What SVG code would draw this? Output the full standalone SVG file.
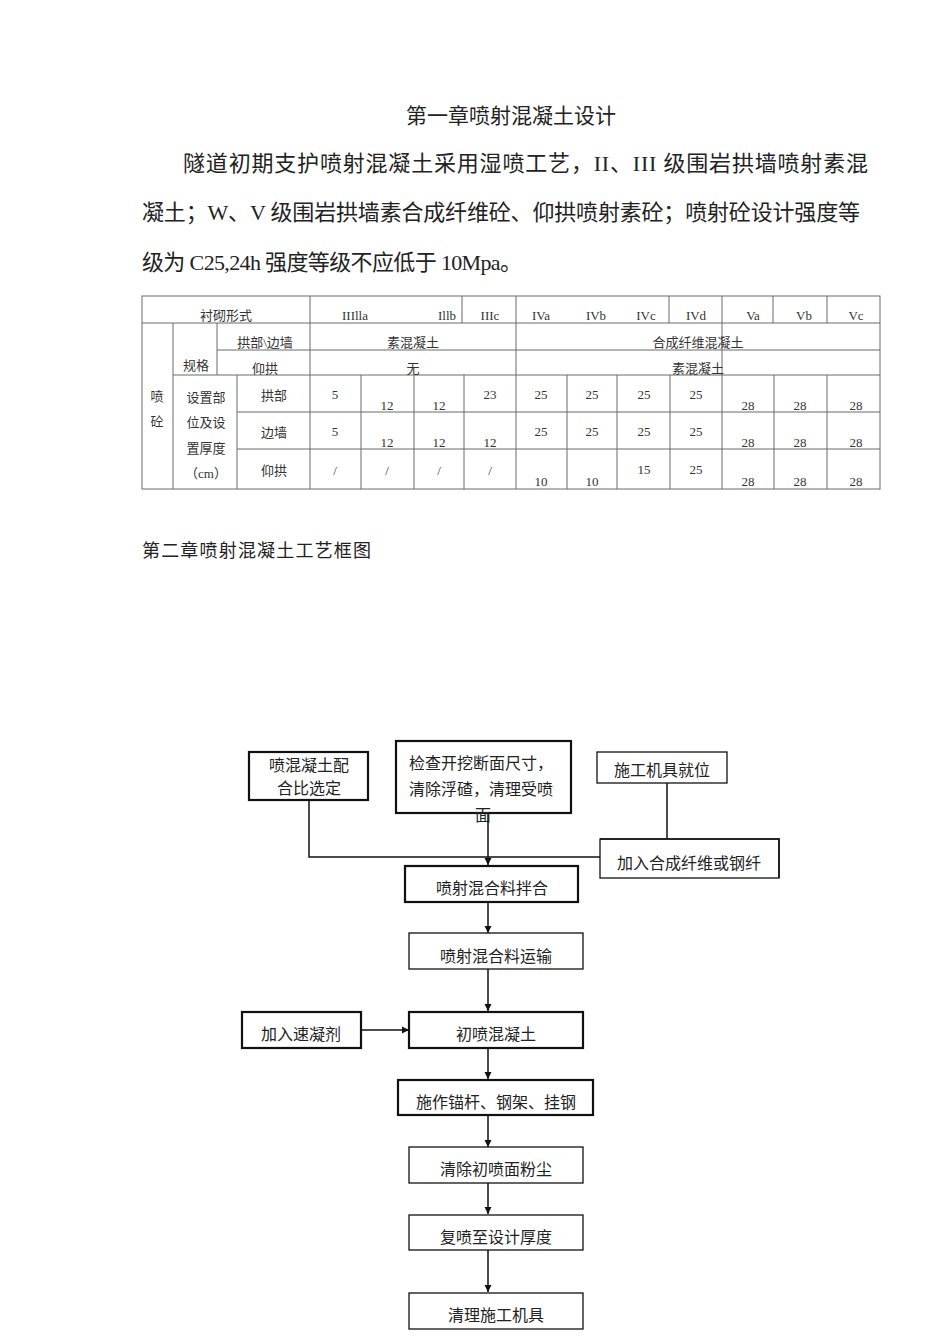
<svg xmlns="http://www.w3.org/2000/svg" width="950" height="1344" viewBox="0 0 950 1344">
<style>
.t{font-family:"Liberation Serif","Noto Sans CJK SC",serif;fill:#222}
.p{font-size:22px}
.tb{font-size:13px;fill:#333;text-anchor:middle}
.fc{font-family:"Noto Sans CJK SC","Liberation Sans",sans-serif;font-size:16px;fill:#222;text-anchor:middle}
.g{stroke:#6a6a6a;stroke-width:1;fill:none}
.bx{fill:#fff;stroke:#111;stroke-width:1.3}
.bk{fill:#fff;stroke:#111;stroke-width:2.2}
.ln{stroke:#111;stroke-width:1.5;fill:none}
</style>
<defs>
<marker id="ah" markerWidth="8" markerHeight="8" refX="7" refY="4" orient="auto" markerUnits="userSpaceOnUse">
<path d="M0,0.5 L7,4 L0,7.5 z" fill="#111"/>
</marker>
</defs>
<rect width="950" height="1344" fill="#fff"/>

<g id="heading">
<text class="t" x="511" y="123" font-size="21" text-anchor="middle">第一章喷射混凝土设计</text>
<text class="t p" x="183" y="171" textLength="685" lengthAdjust="spacing">隧道初期支护喷射混凝土采用湿喷工艺，II、III 级围岩拱墙喷射素混</text>
<text class="t p" x="142" y="220" textLength="718" lengthAdjust="spacing">凝土；W、V 级围岩拱墙素合成纤维砼、仰拱喷射素砼；喷射砼设计强度等</text>
<text class="t p" x="142" y="270" textLength="380" lengthAdjust="spacing">级为 C25,24h 强度等级不应低于 10Mpa。</text>
<text class="t" x="142" y="557" font-size="18" textLength="229" lengthAdjust="spacing">第二章喷射混凝土工艺框图</text>
</g>

<g id="table">
<rect class="g" x="142" y="296" width="738" height="193"/>
<path class="g" d="M142 323H880 M217 350H880 M173 375H880 M237 412H880 M237 449H880
M173 323V489 M217 323V375 M237 375V489 M310 296V489 M516 296V489
M462 296V323 M669 296V323 M722 296V489 M773 296V323 M827 296V323
M361 375V489 M414 375V489 M464 375V489 M567 375V489 M617 375V489 M670 375V489 M774 375V489 M827 375V489"/>
<text class="t tb" x="226" y="320">衬砌形式</text>
<text class="t tb" x="355" y="320">IIIlla</text>
<text class="t tb" x="447" y="320">Illb</text>
<text class="t tb" x="490" y="320">IIIc</text>
<text class="t tb" x="541" y="320">IVa</text>
<text class="t tb" x="596" y="320">IVb</text>
<text class="t tb" x="646" y="320">IVc</text>
<text class="t tb" x="696" y="320">IVd</text>
<text class="t tb" x="753" y="320">Va</text>
<text class="t tb" x="804" y="320">Vb</text>
<text class="t tb" x="856" y="320">Vc</text>
<text class="t tb" x="265" y="347">拱部\边墙</text>
<text class="t tb" x="413" y="347">素混凝土</text>
<text class="t tb" x="698" y="347">合成纤维混凝土</text>
<text class="t tb" x="196" y="370">规格</text>
<text class="t tb" x="265" y="373">仰拱</text>
<text class="t tb" x="413" y="373">无</text>
<text class="t tb" x="698" y="373">素混凝土</text>
<text class="t tb" x="157" y="401">喷</text>
<text class="t tb" x="157" y="426">砼</text>
<text class="t tb" x="206" y="402">设置部</text>
<text class="t tb" x="206" y="427">位及设</text>
<text class="t tb" x="206" y="453">置厚度</text>
<text class="t tb" x="206" y="478">（cm）</text>
<text class="t tb" x="274" y="400">拱部</text>
<text class="t tb" x="274" y="437">边墙</text>
<text class="t tb" x="274" y="475">仰拱</text>
<text class="t tb" x="335" y="399">5</text>
<text class="t tb" x="387" y="410">12</text>
<text class="t tb" x="439" y="410">12</text>
<text class="t tb" x="490" y="399">23</text>
<text class="t tb" x="541" y="399">25</text>
<text class="t tb" x="592" y="399">25</text>
<text class="t tb" x="644" y="399">25</text>
<text class="t tb" x="696" y="399">25</text>
<text class="t tb" x="748" y="410">28</text>
<text class="t tb" x="800" y="410">28</text>
<text class="t tb" x="856" y="410">28</text>
<text class="t tb" x="335" y="436">5</text>
<text class="t tb" x="387" y="447">12</text>
<text class="t tb" x="439" y="447">12</text>
<text class="t tb" x="490" y="447">12</text>
<text class="t tb" x="541" y="436">25</text>
<text class="t tb" x="592" y="436">25</text>
<text class="t tb" x="644" y="436">25</text>
<text class="t tb" x="696" y="436">25</text>
<text class="t tb" x="748" y="447">28</text>
<text class="t tb" x="800" y="447">28</text>
<text class="t tb" x="856" y="447">28</text>
<text class="t tb" x="335" y="475">/</text>
<text class="t tb" x="387" y="475">/</text>
<text class="t tb" x="439" y="475">/</text>
<text class="t tb" x="490" y="475">/</text>
<text class="t tb" x="541" y="486">10</text>
<text class="t tb" x="592" y="486">10</text>
<text class="t tb" x="644" y="474">15</text>
<text class="t tb" x="696" y="474">25</text>
<text class="t tb" x="748" y="486">28</text>
<text class="t tb" x="800" y="486">28</text>
<text class="t tb" x="856" y="486">28</text>
</g>

<g id="connectors">
<polyline class="ln" points="309,800 309,857 600,857"/>
<line class="ln" x1="488" y1="813" x2="488" y2="865" marker-end="url(#ah)"/>
<line class="ln" x1="667" y1="783" x2="667" y2="838"/>
<line class="ln" x1="488" y1="902" x2="488" y2="933" marker-end="url(#ah)"/>
<line class="ln" x1="488" y1="969" x2="488" y2="1011" marker-end="url(#ah)"/>
<line class="ln" x1="361" y1="1030" x2="409" y2="1030" marker-end="url(#ah)"/>
<line class="ln" x1="488" y1="1048" x2="488" y2="1079" marker-end="url(#ah)"/>
<line class="ln" x1="488" y1="1115" x2="488" y2="1147" marker-end="url(#ah)"/>
<line class="ln" x1="488" y1="1183" x2="488" y2="1214" marker-end="url(#ah)"/>
<line class="ln" x1="488" y1="1250" x2="488" y2="1292" marker-end="url(#ah)"/>
</g>

<g id="n1">
<rect class="bk" x="249" y="752" width="119" height="48"/>
<text class="fc" x="309" y="771">喷混凝土配</text>
<text class="fc" x="309" y="794">合比选定</text>
</g>
<g id="n2">
<rect class="bk" x="396" y="741" width="175" height="72"/>
<text class="fc" x="481" y="769">检查开挖断面尺寸，</text>
<text class="fc" x="481" y="795">清除浮碴，清理受喷</text>
<text class="fc" x="483" y="821">面</text>
</g>
<g id="n3">
<rect class="bx" x="597" y="752" width="130" height="31"/>
<text class="fc" x="662" y="776">施工机具就位</text>
</g>
<g id="n5">
<rect class="bx" x="600" y="839" width="179" height="39"/>
<path class="ln" d="M600 839H779V878" stroke-width="2.2"/>
<text class="fc" x="689" y="869">加入合成纤维或钢纤</text>
</g>
<g id="n4">
<rect class="bk" x="405" y="866" width="173" height="36"/>
<text class="fc" x="492" y="894">喷射混合料拌合</text>
</g>
<g id="n6">
<rect class="bx" x="409" y="933" width="174" height="36"/>
<text class="fc" x="496" y="962">喷射混合料运输</text>
</g>
<g id="n7">
<rect class="bk" x="242" y="1012" width="119" height="36"/>
<text class="fc" x="301" y="1040">加入速凝剂</text>
</g>
<g id="n8">
<rect class="bk" x="409" y="1012" width="174" height="36"/>
<text class="fc" x="496" y="1040">初喷混凝土</text>
</g>
<g id="n9">
<rect class="bk" x="398" y="1080" width="195" height="35"/>
<text class="fc" x="496" y="1108">施作锚杆、钢架、挂钢</text>
</g>
<g id="n10">
<rect class="bx" x="409" y="1147" width="174" height="36"/>
<text class="fc" x="496" y="1175">清除初喷面粉尘</text>
</g>
<g id="n11">
<rect class="bx" x="409" y="1215" width="174" height="35"/>
<text class="fc" x="496" y="1243">复喷至设计厚度</text>
</g>
<g id="n12">
<rect class="bx" x="409" y="1293" width="174" height="36"/>
<text class="fc" x="496" y="1321">清理施工机具</text>
</g>
</svg>
